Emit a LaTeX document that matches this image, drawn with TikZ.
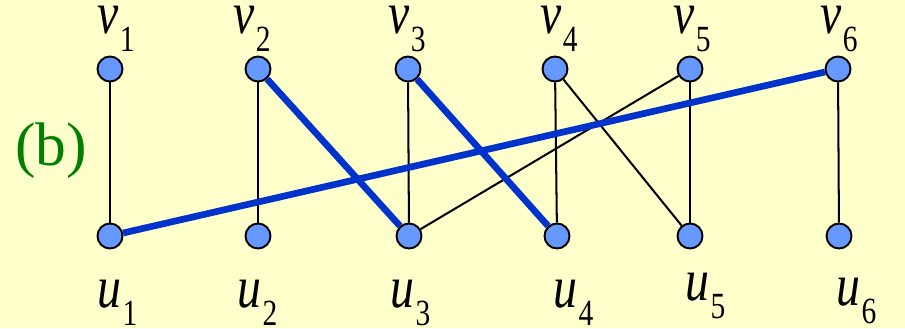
\documentclass[tikz,border=0pt]{standalone}
\usepackage{fontspec}
\setmainfont{Liberation Serif}
\usepackage{tikz}
\usetikzlibrary{positioning}
\definecolor{paper}{RGB}{255,255,204}
\definecolor{vertfill}{RGB}{102,153,255}
\definecolor{matchblue}{RGB}{0,51,204}
\definecolor{tagreen}{RGB}{0,128,0}
\newcommand{\vlab}[2]{\smash{\scalebox{0.8}[1]{{\itshape #1}\kern1pt\raisebox{-10.8pt}{\fontsize{21}{21}\selectfont #2}}}}

\begin{document}
\begin{tikzpicture}[x=0.02cm,y=-0.02cm,
  vert/.style={circle,draw,fill=vertfill,line width=1.1pt,minimum size=0.5cm,inner sep=0pt},
  lab/.style={anchor=base west,inner sep=0pt,font=\fontsize{34}{36}\selectfont},
  plain/.style={line width=1.15pt},
  match/.style={line width=3.8pt,matchblue}]
\fill[paper] (0,0) rectangle (905,328);
\useasboundingbox (0,0) rectangle (905,328);
% vertices
\foreach \i/\xv/\xu in {1/110/110,2/258/258,3/408/409,4/555/557,5/690/690,6/838/839}{
  \node[vert] (v\i) at (\xv,69) {};
  \node[vert] (u\i) at (\xu,236) {};}
% edges
\draw[plain] (v1) -- (u1);
\draw[plain] (v2) -- (u2);
\draw[plain] (v3) -- (u3);
\draw[plain] (v4) -- (u4);
\draw[plain] (v4) -- (u5);
\draw[plain] (v5) -- (u3);
\draw[plain] (v5) -- (u5);
\draw[plain] (v6) -- (u6);
\draw[match] (v2) -- (u3);
\draw[match] (v3) -- (u4);
\draw[match] (v6) -- (u1);
% labels
\foreach \i/\x in {1/97,2/233,3/388,4/540,5/673,6/820}
  \node[lab] (lv\i) at (\x,33) {\vlab{v}{\i}};
\foreach \i/\x/\y in {1/97/307,2/237/307,3/390/307,4/553/307,5/685/300,6/836/305}
  \node[lab] (lu\i) at (\x,\y) {\vlab{u}{\i}};
\node[lab,text=tagreen,font=\fontsize{35}{36}\selectfont] (tag) at (15,165) {(b)};
\end{tikzpicture}
\end{document}
